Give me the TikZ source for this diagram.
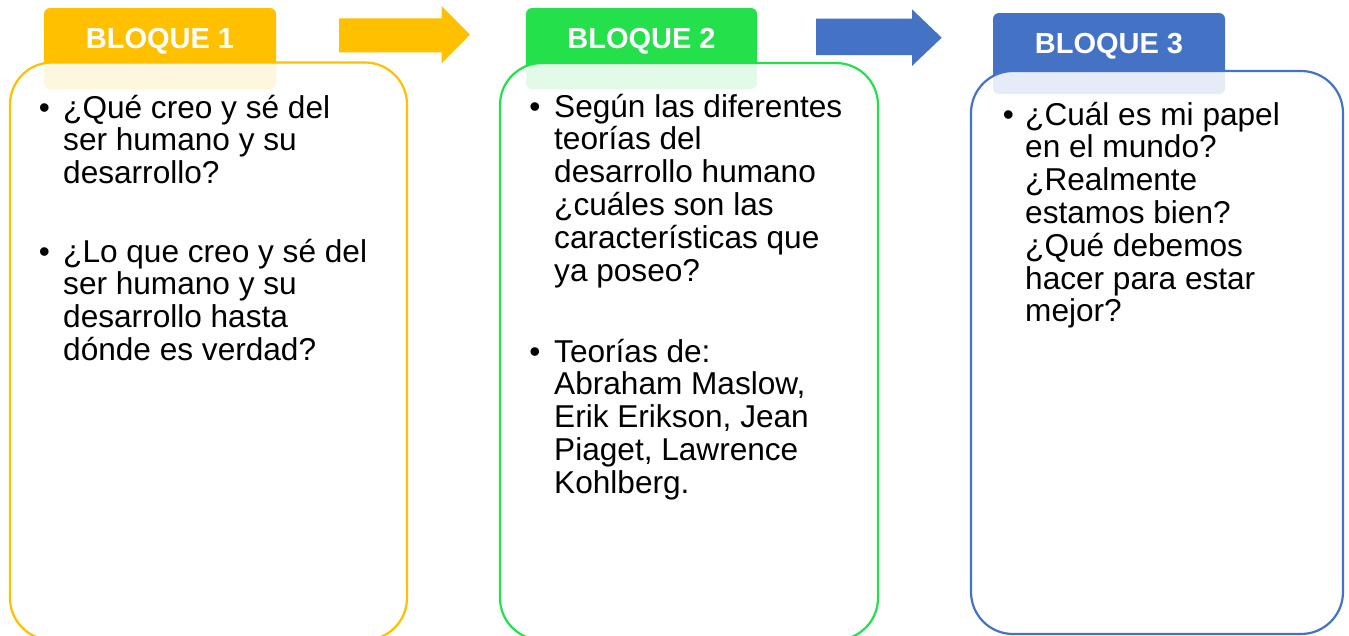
\documentclass[tikz,border=0pt]{standalone}
\usepackage{fontspec}
\setmainfont{Liberation Sans}
\definecolor{yel}{HTML}{FFC000}
\definecolor{grn}{HTML}{24E04B}
\definecolor{blu}{HTML}{4472C4}
\newcommand\bodytxt{\fontsize{31.6}{32.8}\selectfont}
\newcommand\tabtxt{\fontsize{29}{30}\selectfont\bfseries}
\tikzset{
  panel/.style={draw=#1, line width=2.2pt, fill=white, fill opacity=0.87, rounded corners=42pt, inner sep=0pt, outer sep=0pt},
  tabbox/.style={fill=#1, rounded corners=6pt, inner sep=0pt, outer sep=0pt},
  tablabel/.style={text=white, font=\tabtxt, anchor=base, inner sep=0pt},
  bodytext/.style={font=\bodytxt, align=left, anchor=base west, inner sep=0pt, text=black},
  bul/.style={font=\bodytxt, anchor=base, inner sep=0pt, text=black}
}
\begin{document}
\begin{tikzpicture}[x=1pt,y=-1pt]
\useasboundingbox (0,0) rectangle (1349,635);
% tabs
\node[tabbox=yel, minimum width=232pt, minimum height=81pt] (t1) at (160,48.5) {};
\node[tabbox=grn, minimum width=231pt, minimum height=81pt] (t2) at (641.5,48.5) {};
\node[tabbox=blu, minimum width=232pt, minimum height=81pt] (t3) at (1109,53.5) {};
% panels
\node[panel=yel, minimum width=397pt, minimum height=577.5pt] (p1) at (208.5,351.25) {};
\node[panel=grn, minimum width=378pt, minimum height=577pt] (p2) at (689,351.5) {};
\node[panel=blu, minimum width=372pt, minimum height=563pt] (p3) at (1157,352.5) {};
% tab labels
\node[tablabel] (l1) at (160,48) {BLOQUE 1};
\node[tablabel] (l2) at (641.5,48.3) {BLOQUE 2};
\node[tablabel] (l3) at (1109,53.3) {BLOQUE 3};
% block arrows
\fill[yel] (339,18.3) -- (441.7,18.3) -- (441.7,6) -- (470,34.7) -- (441.7,63.3) -- (441.7,52.3) -- (339,52.3) -- cycle;
\fill[blu] (816,18.5) -- (912,18.5) -- (912,9.3) -- (941.7,37.7) -- (912,66) -- (912,55) -- (816,55) -- cycle;
% box 1 text (anchor = baseline of last line)
\node[bul] (b11) at (44.5,118) {\textbullet};
\node[bodytext] (x11) at (63,183.6) {¿Qué creo y sé del\\ser humano y su\\desarrollo?};
\node[bul] (b12) at (44.5,262) {\textbullet};
\node[bodytext] (x12) at (63,360.4) {¿Lo que creo y sé del\\ser humano y su\\desarrollo hasta\\dónde es verdad?};
% box 2 text
\node[bul] (b21) at (535,117) {\textbullet};
\node[bodytext] (x21) at (554,281) {Según las diferentes\\teorías del\\desarrollo humano\\¿cuáles son las\\características que\\ya poseo?};
\node[bul] (b22) at (535,362) {\textbullet};
\node[bodytext] (x22) at (554,493.2) {Teorías de:\\Abraham Maslow,\\Erik Erikson, Jean\\Piaget, Lawrence\\Kohlberg.};
% box 3 text
\node[bul] (b31) at (1008.5,125) {\textbullet};
\node[bodytext] (x31) at (1025,321.8) {¿Cuál es mi papel\\en el mundo?\\¿Realmente\\estamos bien?\\¿Qué debemos\\hacer para estar\\mejor?};
\end{tikzpicture}
\end{document}
